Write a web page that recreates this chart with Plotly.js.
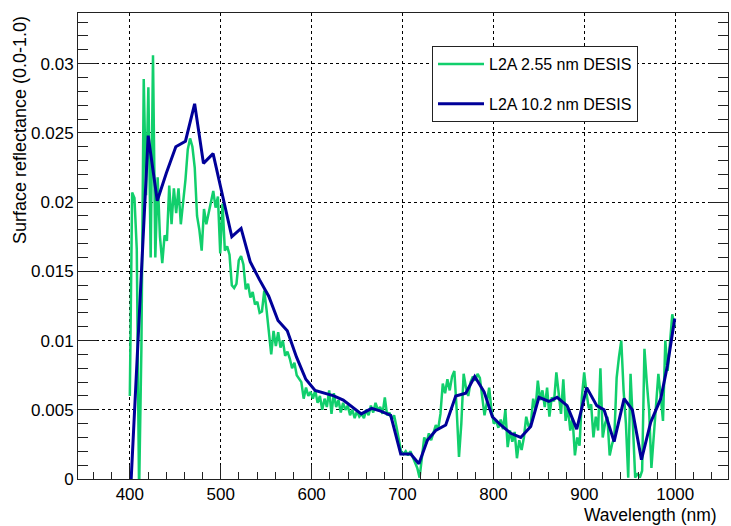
<!DOCTYPE html>
<html>
<head>
<meta charset="utf-8">
<script src="https://cdn.plot.ly/plotly-3.0.1.min.js"></script>
<style>
  html, body { margin: 0; padding: 0; background: #fff; }
  #chart { width: 731px; height: 526px; position: relative; }
</style>
</head>
<body>
<div id="chart"></div>
<script>
// ---- Data ----
// L2A 2.55 nm DESIS: regular band sampling
const greenStart = 400.0;
const greenStep = 2.55;
const greenValues = [
  0.0060, 0.0207, 0.0203, 0.0166, -0.0010, 0.0095, 0.0289, 0.0205, 0.0283, 0.0160,
  0.0306, 0.0160, 0.0218, 0.0175, 0.0156, 0.0176, 0.0172, 0.0212, 0.0184, 0.0210,
  0.0192, 0.0210, 0.0184, 0.0200, 0.0216, 0.0238, 0.0246, 0.0240, 0.0225, 0.0190,
  0.0180, 0.0165, 0.0195, 0.0184, 0.0192, 0.0200, 0.0208, 0.0196, 0.0204, 0.0163,
  0.0199, 0.0165, 0.0168, 0.0162, 0.0140, 0.0138, 0.0141, 0.0158, 0.0161, 0.0155,
  0.0137, 0.0141, 0.0131, 0.0135, 0.0126, 0.0128, 0.0120, 0.0121, 0.0136, 0.0122,
  0.0108, 0.0090, 0.0107, 0.0096, 0.0106, 0.0095, 0.0100, 0.0089, 0.0092, 0.0087,
  0.0080, 0.0084, 0.0075, 0.0072, 0.0070, 0.0058, 0.0066, 0.0060, 0.0063, 0.0058,
  0.0064, 0.0055, 0.0060, 0.0050, 0.0058, 0.0052, 0.0064, 0.0047, 0.0062, 0.0052,
  0.0057, 0.0048, 0.0055, 0.0050, 0.0053, 0.0046, 0.0050, 0.0044, 0.0049, 0.0045,
  0.0047, 0.0044, 0.0050, 0.0046, 0.0053, 0.0048, 0.0055, 0.0050, 0.0052, 0.0047,
  0.0059, 0.0046, 0.0048, 0.0043, 0.0046, 0.0038, 0.0028, 0.0020, 0.0018, 0.0020,
  0.0017, 0.0020, 0.0016, 0.0012, 0.0008, 0.0001, 0.0018, 0.0030, 0.0026, 0.0033,
  0.0028, 0.0033, 0.0039, 0.0036, 0.0047, 0.0069, 0.0062, 0.0072, 0.0064, 0.0074,
  0.0078, 0.0050, 0.0016, 0.0040, 0.0076, 0.0066, 0.0060, 0.0070, 0.0074, 0.0071,
  0.0076, 0.0073, 0.0060, 0.0046, 0.0055, 0.0066, 0.0050, 0.0040, 0.0042, 0.0037,
  0.0043, 0.0036, 0.0050, 0.0023, 0.0035, 0.0027, 0.0034, 0.0015, 0.0028, 0.0021,
  0.0030, 0.0045, 0.0038, 0.0040, 0.0058, 0.0050, 0.0071, 0.0057, 0.0064, 0.0052,
  0.0066, 0.0045, 0.0059, 0.0056, 0.0077, 0.0060, 0.0047, 0.0072, 0.0042, 0.0052,
  0.0035, 0.0044, 0.0017, 0.0030, 0.0024, 0.0059, 0.0077, 0.0062, 0.0051, 0.0054,
  0.0030, 0.0045, 0.0035, 0.0080, 0.0030, 0.0040, 0.0045, 0.0017, 0.0025, 0.0030,
  0.0073, 0.0088, 0.0100, 0.0064, 0.0040, 0.0001, 0.0076, 0.0040, 0.0001, 0.0004,
  0.0001, 0.0006, 0.0094, 0.0070, 0.0050, 0.0008, 0.0030, 0.0057, 0.0076, 0.0060,
  0.0042, 0.0100, 0.0078, 0.0098, 0.0119, 0.0110
];
const greenWavelength = greenValues.map((_, i) => +(greenStart + i * greenStep).toFixed(2));

// L2A 10.2 nm DESIS
const blueWavelength = [
  401.5, 410.5, 420.2, 430.2, 440.2, 450.6, 461.2, 471.3, 481.0, 491.6,
  501.8, 512.2, 522.4, 532.4, 542.6, 552.8, 563.0, 573.2, 583.4, 593.6,
  603.8, 614.0, 624.4, 634.8, 645.0, 654.6, 666.0, 676.0, 687.0, 698.0,
  709.0, 718.0, 727.3, 736.5, 747.5, 758.5, 769.5, 779.4, 789.7, 798.8,
  808.0, 819.0, 830.0, 841.0, 850.0, 861.0, 870.0, 881.0, 891.6, 902.6,
  913.6, 921.7, 932.7, 943.7, 952.8, 962.8, 973.0, 984.0, 991.4, 999.4
];
const blueValues = [
  0.0000, 0.0118, 0.0248, 0.0201, 0.0221, 0.0240, 0.0244, 0.0271, 0.0228, 0.0235,
  0.0205, 0.0175, 0.0181, 0.0157, 0.0144, 0.0132, 0.01145, 0.0107, 0.0088, 0.0072,
  0.0064, 0.0062, 0.0060, 0.0057, 0.0052, 0.0047, 0.0051, 0.0049, 0.0046, 0.0018,
  0.0018, 0.0011, 0.0028, 0.0035, 0.0039, 0.0060, 0.0062, 0.0074, 0.0063, 0.0045,
  0.0039, 0.0033, 0.0030, 0.0038, 0.0059, 0.0056, 0.0059, 0.0053, 0.0036, 0.0066,
  0.0053, 0.0050, 0.0027, 0.0058, 0.0050, 0.0014, 0.0041, 0.0058, 0.0082, 0.0116
];

const seriesNames = ["L2A 2.55 nm DESIS", "L2A 10.2 nm DESIS"];
const xTickVals = [400, 500, 600, 700, 800, 900, 1000];
const xTickText = ["400", "500", "600", "700", "800", "900", "1000"];
const yTickVals = [0, 0.005, 0.01, 0.015, 0.02, 0.025, 0.03];
const yTickText = ["0", "0.005", "0.01", "0.015", "0.02", "0.025", "0.03"];
const xTitle = "Wavelength (nm)";
const yTitle = "Surface reflectance (0.0-1.0)";

// ---- Styling ----
const FONT = "Liberation Sans, Arial, Helvetica, sans-serif";
const GREEN = "#11cf6c";
const BLUE = "#000099";
const FRAME = "#222222";
const TICKFS = 17;

const traces = [
  {
    x: greenWavelength, y: greenValues, type: "scatter", mode: "lines",
    name: seriesNames[0], legendgroup: "g1",
    line: { color: GREEN, width: 2.5 }, hoverinfo: "skip"
  },
  {
    x: blueWavelength, y: blueValues, type: "scatter", mode: "lines",
    name: seriesNames[1], legendgroup: "g2",
    line: { color: BLUE, width: 3 }, hoverinfo: "skip"
  }
];

const L = 78, R = 3, T = 13, B = 47;
const W = 731, H = 526;
const pw = W - L - R, ph = H - T - B;
const px2x = (px) => (px - L) / pw;
const px2y = (py) => (H - B - py) / ph;

const layout = {
  width: W, height: H,
  margin: { l: L, r: R, t: T, b: B, pad: 0 },
  paper_bgcolor: "#ffffff", plot_bgcolor: "#ffffff",
  font: { family: FONT, size: TICKFS, color: "#000" },
  showlegend: true,
  xaxis: {
    range: [343, 1058], autorange: false,
    tickmode: "array", tickvals: xTickVals, ticktext: xTickText,
    ticks: "inside", ticklen: 14, tickwidth: 1, tickcolor: FRAME,
    minor: { tickmode: "linear", dtick: 20, tick0: 400, ticks: "inside", ticklen: 7 },
    showgrid: true, gridcolor: "#000", griddash: "dot",
    showline: true, mirror: true, linecolor: FRAME,
    zeroline: false, tickfont: { family: FONT, size: TICKFS, color: "#000" }
  },
  yaxis: {
    range: [0, 0.03366], autorange: false,
    tickmode: "array", tickvals: yTickVals, ticktext: yTickText,
    ticks: "inside", ticklen: 19, tickwidth: 1, tickcolor: FRAME,
    minor: { tickmode: "linear", dtick: 0.001, tick0: 0, ticks: "inside", ticklen: 10 },
    showgrid: true, gridcolor: "#000", griddash: "dot",
    showline: true, mirror: "ticks", linecolor: FRAME,
    zeroline: false, tickfont: { family: FONT, size: TICKFS, color: "#000" }
  },
  legend: {
    x: px2x(432), y: px2y(46), xanchor: "left", yanchor: "top",
    bgcolor: "#ffffff", bordercolor: FRAME, borderwidth: 1,
    font: { family: FONT, size: 16, color: "#000" },
    traceorder: "grouped", tracegroupgap: 16, itemwidth: 46
  },
  annotations: [
    {
      text: xTitle, xref: "paper", yref: "paper",
      x: px2x(719), y: px2y(515), xanchor: "right", yanchor: "middle",
      showarrow: false, font: { family: FONT, size: 17.5, color: "#000" }
    },
    {
      text: yTitle, xref: "paper", yref: "paper", textangle: -90,
      x: px2x(20), y: px2y(14), xanchor: "center", yanchor: "top",
      showarrow: false, font: { family: FONT, size: 18, color: "#000" }
    }
  ]
};

Plotly.newPlot("chart", traces, layout, { staticPlot: true, displayModeBar: false }).then((gd) => {
  // Re-layer Plotly's own tick paths on top of everything so they stay visible.
  const svgs = gd.querySelectorAll("svg.main-svg");
  const top = svgs[svgs.length - 1];
  const ns = "http://www.w3.org/2000/svg";
  const g = document.createElementNS(ns, "g");
  g.setAttribute("class", "tick-overlay");
  gd.querySelectorAll("path.xtick, path.ytick").forEach((p) => {
    const c = p.cloneNode(true);
    c.setAttribute("style", "stroke:" + FRAME + ";stroke-opacity:1;stroke-width:1px;fill:none;");
    c.setAttribute("shape-rendering", "crispEdges");
    g.appendChild(c);
  });
  top.appendChild(g);
});
</script>
</body>
</html>
